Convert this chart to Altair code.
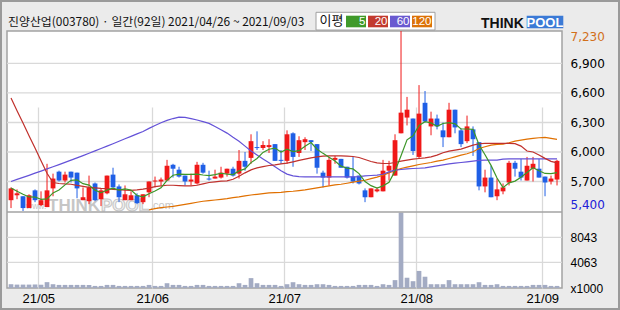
import altair as alt
import pandas as pd

# ---------------- data ----------------
opens = [5510, 5560, 5550, 5430, 5610, 5460, 5440, 5630, 5800, 5710,
         5800, 5790, 5510, 5500, 5680, 5520, 5580, 5770, 5650, 5510,
         5510, 5560, 5490, 5590, 5700, 5700, 5710, 5870, 5820, 5760,
         5700, 5680, 5870, 5730, 5730, 5740, 5780, 5830, 5780, 5910,
         5940, 6050, 6040, 6050, 6080, 5920, 5910, 6190, 5990, 6100,
         6120, 6080, 5790, 5740, 5920, 5930, 5850, 5750, 5760, 5610,
         5540, 5600, 5600, 5810, 5760, 6190, 6350, 6340, 5950, 6500,
         6260, 6340, 6220, 6150, 6430, 6220, 6110, 6230, 6100, 5650,
         5740, 5550, 5600, 5690, 5890, 5800, 5710, 5830, 5830, 5750,
         5700, 5720]
highs = [5640, 5620, 5550, 5570, 5620, 5600, 5880, 5780, 5810, 5800,
         5800, 5790, 5640, 5760, 5690, 5630, 5760, 5840, 5670, 5660,
         5600, 5580, 5570, 5700, 5750, 5740, 5920, 5880, 5850, 5760,
         5780, 5900, 5890, 5810, 5820, 5850, 5830, 5850, 6020, 6000,
         6180, 6210, 6110, 6130, 6080, 6020, 6220, 6200, 6160, 6150,
         6120, 6080, 5810, 5950, 5960, 5930, 5850, 5950, 5760, 5630,
         5630, 5640, 5920, 5910, 6180, 7230, 6560, 6340, 6680, 6620,
         6410, 6380, 6300, 6500, 6430, 6240, 6370, 6260, 6100, 5820,
         5860, 5730, 5680, 5910, 5910, 5930, 5950, 5950, 5930, 5750,
         5760, 5920]
lows = [5430, 5520, 5400, 5430, 5490, 5450, 5440, 5550, 5700, 5690,
        5690, 5530, 5510, 5470, 5500, 5450, 5570, 5640, 5490, 5510,
        5510, 5470, 5470, 5540, 5640, 5660, 5710, 5740, 5740, 5660,
        5660, 5670, 5780, 5710, 5730, 5730, 5750, 5750, 5730, 5810,
        5880, 6020, 6020, 5990, 5910, 5880, 5880, 5850, 5950, 6020,
        6010, 5780, 5640, 5660, 5880, 5840, 5730, 5680, 5670, 5490,
        5540, 5590, 5600, 5710, 5760, 6190, 6270, 5970, 5930, 6300,
        6170, 6230, 6050, 6150, 6190, 6050, 6090, 5960, 5610, 5590,
        5540, 5510, 5570, 5660, 5750, 5710, 5710, 5700, 5740, 5550,
        5670, 5660]
closes = [5630, 5580, 5430, 5560, 5510, 5510, 5610, 5730, 5710, 5770,
          5740, 5630, 5540, 5640, 5510, 5610, 5760, 5640, 5540, 5570,
          5560, 5480, 5570, 5700, 5710, 5720, 5860, 5830, 5750, 5700,
          5720, 5870, 5790, 5720, 5750, 5790, 5830, 5760, 5910, 5850,
          6110, 6040, 6070, 6070, 5910, 5910, 6180, 5950, 6120, 6130,
          6100, 5840, 5740, 5920, 5940, 5840, 5740, 5700, 5680, 5540,
          5630, 5620, 5810, 5860, 6120, 6400, 6430, 6010, 6390, 6310,
          6340, 6260, 6150, 6430, 6250, 6080, 6260, 6130, 5650, 5740,
          5540, 5620, 5640, 5890, 5830, 5740, 5860, 5880, 5740, 5690,
          5730, 5910]
volumes = [600, 540, 540, 540, 560, 520, 930, 600, 490, 490,
           490, 490, 490, 480, 330, 330, 490, 490, 330, 330,
           330, 330, 330, 490, 330, 330, 760, 490, 490, 330,
           330, 490, 490, 330, 330, 330, 330, 330, 760, 490,
           1570, 760, 490, 490, 490, 330, 600, 920, 600, 490,
           490, 600, 600, 490, 330, 330, 330, 330, 490, 490,
           490, 330, 600, 490, 1250, 11980, 1630, 1080, 2710, 1790,
           600, 600, 600, 1250, 600, 600, 600, 600, 920, 490,
           490, 600, 330, 330, 330, 330, 330, 490, 490, 490,
           330, 330]
ma5 = [5635, 5600, 5570, 5543, 5542, 5518, 5524, 5584, 5614, 5666,
       5712, 5716, 5678, 5664, 5612, 5586, 5612, 5632, 5612, 5624,
       5614, 5558, 5544, 5576, 5604, 5636, 5712, 5764, 5774, 5772,
       5772, 5774, 5766, 5760, 5770, 5784, 5776, 5770, 5808, 5828,
       5892, 5934, 5996, 6028, 6040, 6000, 6028, 6004, 6014, 6058,
       6096, 6028, 5986, 5946, 5908, 5856, 5836, 5828, 5780, 5700,
       5658, 5634, 5656, 5692, 5808, 5962, 6124, 6164, 6270, 6308,
       6296, 6262, 6290, 6298, 6286, 6234, 6234, 6230, 6074, 5972,
       5864, 5736, 5638, 5686, 5704, 5744, 5792, 5840, 5810, 5782,
       5780, 5790]
ma20 = [6550, 6420, 6294, 6165, 6040, 5910, 5784, 5690, 5680, 5675,
        5672, 5660, 5650, 5640, 5635, 5630, 5628, 5620, 5618, 5612,
        5610, 5615, 5622, 5632, 5648, 5655, 5662, 5662, 5659, 5655,
        5655, 5662, 5676, 5690, 5696, 5703, 5706, 5723, 5754, 5788,
        5818, 5839, 5852, 5863, 5869, 5880, 5886, 5900, 5914, 5927,
        5941, 5951, 5958, 5961, 5961, 5961, 5958, 5954, 5944, 5924,
        5903, 5890, 5883, 5883, 5893, 5907, 5917, 5927, 5934, 5941,
        5951, 5968, 5992, 6009, 6019, 6029, 6050, 6070, 6084, 6087,
        6087, 6087, 6087, 6087, 6085, 6060, 6010, 6000, 5970, 5935,
        5905, 5890]
ma60 = [5700, 5721, 5742, 5763, 5785, 5806, 5828, 5850, 5872, 5894,
        5917, 5940, 5963, 5987, 6011, 6035, 6060, 6084, 6109, 6134,
        6159, 6184, 6209, 6240, 6270, 6298, 6322, 6340, 6354, 6352,
        6340, 6325, 6308, 6291, 6260, 6226, 6192, 6150, 6110, 6060,
        6010, 5970, 5930, 5890, 5850, 5810, 5775, 5757, 5750, 5748,
        5748, 5748, 5748, 5748, 5748, 5748, 5748, 5748, 5750, 5757,
        5761, 5764, 5774, 5798, 5815, 5822, 5829, 5832, 5835, 5839,
        5849, 5859, 5869, 5880, 5886, 5893, 5900, 5907, 5914, 5917,
        5917, 5917, 5927, 5931, 5931, 5931, 5931, 5931, 5931, 5931,
        5931, 5931]
ma120 = [None] * 23 + [
        5412, 5424, 5434, 5441, 5448, 5458, 5468, 5478, 5489, 5499,
        5506, 5512, 5519, 5526, 5536, 5543, 5553, 5563, 5570, 5577,
        5584, 5587, 5590, 5597, 5601, 5608, 5614, 5625, 5635, 5645,
        5655, 5665, 5672, 5682, 5693, 5703, 5713, 5730, 5744, 5764,
        5788, 5812, 5832, 5846, 5859, 5873, 5883, 5893, 5907, 5917,
        5934, 5951, 5968, 5982, 6002, 6036, 6053, 6070, 6077, 6080,
        6094, 6111, 6121, 6131, 6138, 6145, 6148, 6138, 6128]

month_idx = [5, 24, 46, 68, 89]          # first trading day of each month
month_labels = ["21/05", "21/06", "21/07", "21/08", "21/09"]
price_ticks = [5400, 5700, 6000, 6300, 6600, 6900, 7230]
price_grid = [5700, 6000, 6300, 6600, 6900]
vol_ticks = [0, 4063, 8043]
ma_names = ["120", "60", "20", "5"]
ma_series = [ma120, ma60, ma20, ma5]
title_text = "진양산업(003780) · 일간(92일) 2021/04/26 ~ 2021/09/03"
legend_title = "이평"
legend_names = ["5", "20", "60", "120"]

# ---------------- styles ----------------
RED, BLUE = "#f01818", "#1f5fe6"
MA_COLORS = {"5": "#3c9628", "20": "#c0302c", "60": "#6452d8", "120": "#e07000"}
LEG_COLORS = {"5": "#3f9a2a", "20": "#c23a2e", "60": "#6a5ad0", "120": "#dc7208"}
VOLC = "#a3abc3"
GRID = "#d9d9d9"
BORDER = "#a3a3a3"
W, H, PH = 555, 257, 181

n = len(closes)
df = pd.DataFrame({"i": list(range(n)), "open": opens, "high": highs,
                   "low": lows, "close": closes, "vol": volumes})
rows = []
for name, ser in zip(ma_names, ma_series):
    for i, v in enumerate(ser):
        if v is not None:
            rows.append({"i": i, "ma": name, "value": v})
ma_df = pd.DataFrame(rows)
one = pd.DataFrame({"k": [0]})

tick_vals = [m - 0.45 for m in month_idx]
expr = f"'{month_labels[-1]}'"
for k in range(len(tick_vals) - 2, -1, -1):
    mid = (tick_vals[k] + tick_vals[k + 1]) / 2
    expr = f"datum.value < {mid} ? '{month_labels[k]}' : " + expr

xscale = alt.Scale(domain=[-0.67, n - 0.17], nice=False, zero=False)
xaxis = alt.Axis(values=tick_vals, labelExpr=expr, grid=True, gridColor=GRID,
                 gridWidth=1.3, ticks=False, tickSize=0, domain=False,
                 labelFont="Liberation Sans", labelFontSize=13, labelColor="#000",
                 labelPadding=4, labelFlush=False, labelOverlap=False, title=None,
                 orient="bottom")
pscale = alt.Scale(domain=[5390, 7230], range=[PH, 0], nice=False, zero=False)
paxis = alt.Axis(orient="right", values=price_ticks, format=",d", labelFlush=3,
                 labelColor={"condition": [{"test": "datum.value == 7230", "value": "#d2701a"},
                                           {"test": "datum.value == 5400", "value": "#2020d8"}],
                             "value": "#000000"},
                 grid=False, ticks=False, tickSize=0, domain=False,
                 labelFont="DejaVu Sans", labelFontSize=12, labelPadding=8,
                 title=None, labelOverlap=False)
vscale = alt.Scale(domain=[0, 12065], range=[H, PH], nice=False, zero=False)
vaxis = alt.Axis(orient="right", values=vol_ticks, format="d",
                 labelExpr="datum.value == 0 ? 'x1000' : datum.label",
                 grid=False, ticks=False, tickSize=0, domain=False,
                 labelFont="Liberation Sans", labelFontSize=12, labelColor="#000",
                 labelPadding=8, title=None, labelFlush=False, labelOverlap=False)


def PX(f):
    return alt.X(f"{f}:Q", scale=xscale, axis=xaxis)


def PY(f):
    return alt.Y(f"{f}:Q", scale=pscale, axis=paxis)


def VY(f):
    return alt.Y(f"{f}:Q", scale=vscale, axis=vaxis)


# ---------------- price panel ----------------
p_layers = []
p_layers.append(alt.Chart(pd.DataFrame({"g": price_grid})).mark_rule(
    color=GRID, strokeWidth=1.3).encode(y=PY("g"), x=alt.value(0), x2=alt.value(W)))

# watermark
wm = "#c6c6c6"
p_layers.append(alt.Chart(one).mark_text(text="www.", align="left", baseline="alphabetic",
                font="Liberation Sans", fontSize=8.5, color=wm).encode(x=alt.value(19), y=alt.value(178)))
p_layers.append(alt.Chart(one).mark_text(text="THINK", align="left", baseline="alphabetic",
                font="Liberation Sans", fontWeight="bold", fontSize=17, color=wm).encode(
                x=alt.value(41), y=alt.value(180)))
p_layers.append(alt.Chart(one).mark_text(text="POOL", align="left", baseline="alphabetic",
                font="Liberation Sans", fontWeight="bold", fontSize=17, color="#f2f2f2",
                stroke=wm, strokeWidth=1).encode(x=alt.value(94), y=alt.value(180)))
p_layers.append(alt.Chart(one).mark_text(text=".com", align="left", baseline="alphabetic",
                font="Liberation Sans", fontSize=11, color=wm).encode(x=alt.value(143), y=alt.value(178)))

for direction, col in (("up", RED), ("down", BLUE)):
    test = "datum.close >= datum.open" if direction == "up" else "datum.close < datum.open"
    base = alt.Chart(df).transform_filter(test)
    p_layers.append(base.mark_rule(color=col, strokeWidth=1).encode(
        x=PX("i"), y=PY("low"), y2="high:Q"))
    p_layers.append(base.transform_calculate(
        lo="min(datum.open, datum.close)", hi="max(datum.open, datum.close)",
        xl="datum.i - 0.4", xr="datum.i + 0.4").mark_rect(color=col).encode(
        x=PX("xl"), x2="xr:Q", y=PY("lo"), y2="hi:Q"))

for name in ma_names:
    p_layers.append(alt.Chart(ma_df).transform_filter(alt.datum.ma == name).mark_line(
        color=MA_COLORS[name], strokeWidth=1.2).encode(x=PX("i"), y=PY("value")))

price = alt.layer(*p_layers)

# ---------------- volume panel ----------------
v_layers = []
v_layers.append(alt.Chart(pd.DataFrame({"v": vol_ticks[1:]})).mark_rule(
    color=GRID, strokeWidth=1.3).encode(y=VY("v"), x=alt.value(0), x2=alt.value(W)))
v_layers.append(alt.Chart(df).transform_calculate(
    xl="datum.i - 0.39", xr="datum.i + 0.39", z="0").mark_rect(color=VOLC).encode(
    x=PX("xl"), x2="xr:Q", y=VY("vol"), y2="z:Q"))
v_layers.append(alt.Chart(one).mark_rule(color=BORDER, strokeWidth=1.5).encode(
    x=alt.value(0), x2=alt.value(W), y=alt.value(PH)))
volume = alt.layer(*v_layers)

# ---------------- header / frame ----------------
d_layers = []
d_layers.append(alt.Chart(one).mark_rect(fillOpacity=0, stroke="#9a9a9a", strokeWidth=2).encode(
    x=alt.value(-6), x2=alt.value(612), y=alt.value(-30), y2=alt.value(278)))
d_layers.append(alt.Chart(one).mark_text(text=title_text, align="left", baseline="middle",
                font="Noto Sans CJK KR", fontSize=11.9, color="#111").encode(
                x=alt.value(1), y=alt.value(-9)))
d_layers.append(alt.Chart(one).mark_rect(fill="white", stroke="#a0a0a0", strokeWidth=1).encode(
    x=alt.value(309), x2=alt.value(428), y=alt.value(-18.7), y2=alt.value(-1)))
d_layers.append(alt.Chart(one).mark_text(text=legend_title, align="center", baseline="middle",
                font="Noto Sans CJK KR", fontSize=13, color="#111").encode(
                x=alt.value(324.5), y=alt.value(-10)))
for k, name in enumerate(legend_names):
    x0 = 339 + 22 * k
    d_layers.append(alt.Chart(one).mark_rect(fill=LEG_COLORS[name]).encode(
        x=alt.value(x0), x2=alt.value(x0 + 20), y=alt.value(-15.3), y2=alt.value(-3.7)))
    d_layers.append(alt.Chart(one).mark_text(text=name, align="right", baseline="middle",
                    font="Liberation Sans", fontSize=11.5, color="white").encode(
                    x=alt.value(x0 + 19.5), y=alt.value(-9.3)))
# THINKPOOL logo
d_layers.append(alt.Chart(one).mark_text(text="THINK", align="left", baseline="alphabetic",
                font="Liberation Sans", fontWeight="bold", fontSize=14, color="#111").encode(
                x=alt.value(474), y=alt.value(-3)))
d_layers.append(alt.Chart(one).mark_rect(fill="#3b7ad6").encode(
    x=alt.value(519.7), x2=alt.value(556.3), y=alt.value(-15.3), y2=alt.value(-2.7)))
d_layers.append(alt.Chart(one).mark_text(text="POOL", align="center", baseline="alphabetic",
                font="Liberation Sans", fontWeight="bold", fontSize=13, color="white").encode(
                x=alt.value(538), y=alt.value(-4)))

chart = alt.layer(price, volume, *d_layers).resolve_scale(y="independent").properties(
    width=W, height=H,
    autosize=alt.AutoSizeParams(type="none"),
    padding={"left": 7, "top": 31, "right": 58, "bottom": 22},
    background="#ebebeb",
).configure_view(fill="white", stroke=BORDER, strokeWidth=1.5)

chart.save("out.html", embed_options={"renderer": "svg", "actions": False})
